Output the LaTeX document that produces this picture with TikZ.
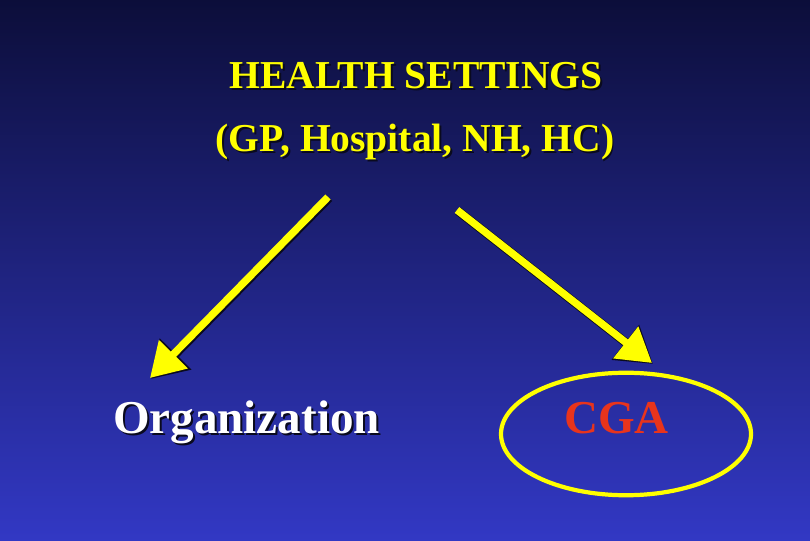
\documentclass[tikz,border=0pt]{standalone}
\usepackage{fontspec}
\setmainfont{Liberation Serif}
\usetikzlibrary{arrows.meta,shapes.geometric}

\definecolor{navytop}{RGB}{12,14,58}
\definecolor{navymid}{RGB}{36,40,148}
\definecolor{navybot}{RGB}{50,56,196}
\definecolor{slideyellow}{RGB}{255,255,0}
\definecolor{cgared}{RGB}{232,52,28}
\definecolor{shadowc}{RGB}{10,10,30}

% text with a small drop shadow
\newcommand\dropshade[2]{\rlap{\raisebox{-1.1pt}{\hspace{1.1pt}\color{shadowc}#2}}{\color{#1}#2}}

\begin{document}
\begin{tikzpicture}[
  label/.style={inner sep=0pt, anchor=base, font=\bfseries},
  bigarrow/.style={draw=slideyellow, line width=4.2pt,
    -{Triangle[length=19pt,width=22pt]}, fill=slideyellow,
    preaction={draw=shadowc, line width=5pt, -{Triangle[length=20pt,width=24pt]}, fill=shadowc, transform canvas={shift={(0.02,-0.02)}}}},
  ring/.style={draw=slideyellow, ellipse, line width=2.4pt, inner sep=0pt}]
\shade[top color=navytop, middle color=navymid, bottom color=navybot] (0,0) rectangle (16.2,10.8);
\useasboundingbox (0,0) rectangle (16.2,10.8);

\node (title) at (8.32,9.02) [label, font=\bfseries\fontsize{22.5}{26}\selectfont] {\dropshade{slideyellow}{HEALTH SETTINGS}};
\node (places) at (8.3,7.76) [label, font=\bfseries\fontsize{22.5}{26}\selectfont] {\dropshade{slideyellow}{(GP, Hospital, NH, HC)}};

\node (org) at (4.93,2.12) [label, font=\bfseries\fontsize{26.8}{30}\selectfont] {\dropshade{white}{Organization}};
\node (cga) at (12.33,2.12) [label, font=\bfseries\fontsize{26.8}{30}\selectfont] {\color{cgared}CGA};
\node (cgaring) at (12.52,2.12) [ring, minimum width=5.0cm, minimum height=2.45cm] {};

\coordinate (ltail) at (6.56,6.86);
\coordinate (ltip) at (3.0,3.24);
\coordinate (rtail) at (9.14,6.6);
\coordinate (rtip) at (13.04,3.54);

\draw[bigarrow] (ltail) -- (ltip);
\draw[bigarrow] (rtail) -- (rtip);
\end{tikzpicture}
\end{document}
